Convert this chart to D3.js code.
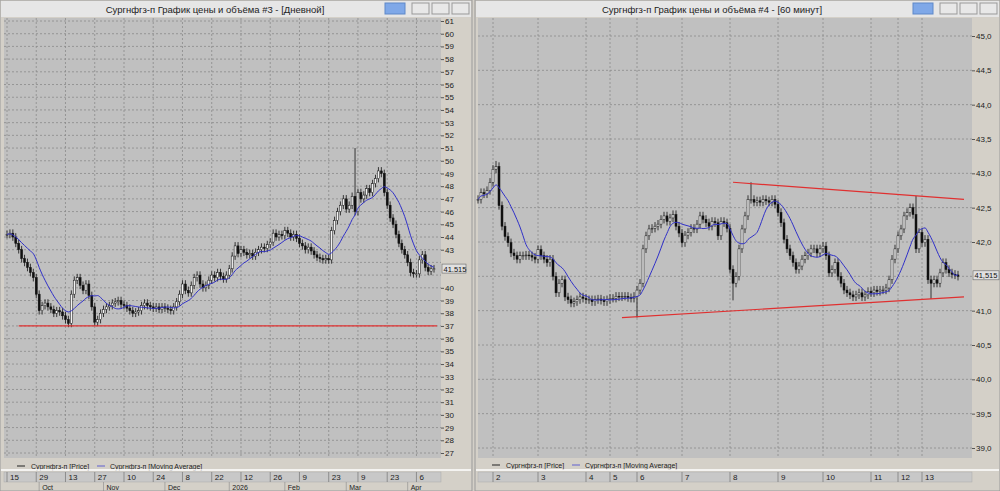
<!DOCTYPE html>
<html><head><meta charset="utf-8">
<script src="https://cdn.jsdelivr.net/npm/d3@7/dist/d3.min.js"></script>
<style>body{margin:0;background:#d4d0c8;font-family:"Liberation Sans",Arial,sans-serif}</style>
</head><body><svg id="s" width="1000" height="491"></svg>
<script>
// ---- Left chart (daily) ----
const leftCloses=[44.2,44.3,44.0,43.5,43.0,42.3,42.0,41.6,41.2,40.8,
39.5,38.2,38.6,38.8,38.5,38.3,38.0,38.2,38.1,37.8,
37.5,37.2,39.5,40.6,40.8,40.2,39.8,40.3,39.4,38.5,
37.3,37.5,38.0,38.3,38.5,38.6,38.8,38.9,39.0,38.7,
38.6,38.4,38.2,38.0,38.1,38.2,38.6,38.8,38.6,38.5,
38.4,38.5,38.3,38.5,38.4,38.3,38.2,38.5,38.9,39.5,
40.3,39.8,39.6,40.2,40.8,41.0,40.3,40.0,40.2,40.6,
41.0,40.8,41.2,40.9,40.7,41.0,41.5,42.5,43.3,42.7,
43.0,42.8,42.6,42.7,42.5,42.8,43.0,43.2,43.1,43.4,
43.6,44.3,44.0,44.2,44.1,44.5,44.3,44.0,44.2,43.9,
43.5,43.3,43.0,43.2,42.9,42.6,42.4,42.3,42.2,42.3,
42.2,44.5,45.3,46.0,46.5,47.0,46.2,46.5,47.2,46.0,
47.5,47.0,47.3,47.8,47.5,48.2,48.6,49.2,49.0,47.5,
46.5,45.5,45.0,44.2,43.5,43.0,42.6,42.0,41.2,41.1,
41.1,42.2,42.6,41.6,41.3,41.5,41.5];
const leftSpikes=[{i:119,h:51.0},{i:21,l:36.9},{i:127,h:49.5}];
const leftDayTicks=[[0,"15"],[10,"29"],[20,"13"],[30,"27"],[40,"10"],[50,"24"],[60,"8"],[70,"22"],[80,"12"],[90,"26"],[100,"9"],[110,"23"],[120,"9"],[130,"23"],[140,"6"]];
const leftMonths=[[11,"Oct"],[33,"Nov"],[54,"Dec"],[76,"2026"],[95,"Feb"],[116,"Mar"],[137,"Apr"]];
const leftYTicks=d3.range(27,62,1);
const leftLevel=[[4,37.0],[147,37.0]];
// ---- Right chart (60 min) ----
const rightCloses=[42.62,42.72,42.7,42.75,42.87,43.06,43.1,42.53,42.23,42.08,
41.99,41.84,41.8,41.75,41.8,41.8,41.81,41.8,41.78,41.75,
41.89,41.8,41.75,41.7,41.75,41.5,41.26,41.4,41.45,41.2,
41.16,41.11,41.13,41.16,41.2,41.18,41.16,41.16,41.13,41.16,
41.17,41.15,41.13,41.16,41.18,41.18,41.21,41.2,41.21,41.21,
41.19,41.18,41.21,41.3,41.4,41.9,42.09,42.19,42.2,42.23,
42.26,42.33,42.38,42.3,42.35,42.4,42.23,42.13,41.99,42.1,
42.14,42.2,42.19,42.26,42.38,42.33,42.28,42.23,42.3,42.28,
42.09,42.3,42.28,42.2,41.6,41.4,41.5,41.9,42.19,42.38,
42.62,42.62,42.58,42.6,42.58,42.62,42.6,42.58,42.62,42.55,
42.43,42.28,42.04,41.9,41.8,41.7,41.6,41.65,41.75,41.8,
41.84,41.9,41.9,41.84,41.9,41.94,41.8,41.55,41.6,41.7,
41.5,41.4,41.3,41.26,41.23,41.2,41.23,41.26,41.2,41.23,
41.28,41.26,41.3,41.28,41.3,41.3,41.33,41.45,41.75,41.9,
42.09,42.19,42.38,42.43,42.5,42.4,41.9,42.14,41.99,42.04,
41.45,41.4,41.45,41.4,41.55,41.7,41.6,41.55,41.53,41.52,41.5];
const rightSpikes=[{i:146,h:42.67},{i:91,h:42.87},{i:53,l:40.9},{i:6,h:43.18},{i:85,l:41.15},{i:151,l:41.17}];
const rightDayTicks=[[5,"2"],[20,"3"],[36,"4"],[44,"5"],[53,"6"],[68,"7"],[84,"8"],[100,"9"],[115,"10"],[131,"11"],[140,"12"],[148,"13"]];
const rightYTicks=d3.range(39,45.01,0.5);
const rightUpper=[[85,42.87],[162,42.62]];
const rightLower=[[48,40.9],[162,41.2]];

const svg=d3.select("#s");
function sma(a,n){return a.map((v,i)=>d3.mean(a.slice(Math.max(0,i-n+1),i+1)));}

function panel(o){
  const g=svg.append("g");
  g.append("rect").attr("x",o.wx).attr("y",0).attr("width",o.ww).attr("height",491).attr("fill","#d4d0c8").attr("stroke","#9a9a9a");
  g.append("rect").attr("x",o.wx+1).attr("y",1).attr("width",o.ww-2).attr("height",16).attr("fill","#e6e6e6");
  g.append("text").attr("x",o.tx).attr("y",13).attr("text-anchor","middle").attr("font-size",9.5).attr("fill","#222").text(o.title);
  const bx=o.wx+o.ww;
  g.append("rect").attr("x",bx-87).attr("y",3).attr("width",20).attr("height",11).attr("fill","#7fa8e8").attr("stroke","#5f88c8");
  [-60,-40,-20].forEach(d=>g.append("rect").attr("x",bx+d).attr("y",3).attr("width",17).attr("height",11).attr("fill","#e8e8e8").attr("stroke","#999"));
  g.append("rect").attr("x",o.px0).attr("y",18).attr("width",o.px1-o.px0).attr("height",o.py1-18).attr("fill","#c0c0c0");
  const x=d3.scaleLinear().domain(o.xd).range(o.xr);
  const y=d3.scaleLinear().domain(o.yd).range(o.yr);
  const grid=g.append("g").attr("stroke","#8a8a8a").attr("stroke-dasharray","2,2").attr("stroke-width",0.8);
  o.yt.forEach(v=>grid.append("line").attr("x1",o.px0).attr("x2",o.px1).attr("y1",y(v)).attr("y2",y(v)));
  o.dt.forEach(d=>grid.append("line").attr("x1",x(d[0])).attr("x2",x(d[0])).attr("y1",18).attr("y2",o.py1));
  const ya=d3.axisRight(y).tickValues(o.yt.filter(v=>Math.abs(y(v)-y(o.last))>o.hideGap)).tickSize(3).tickFormat(o.yf);
  const ag=g.append("g").attr("transform",`translate(${o.px1},0)`).call(ya);
  ag.select(".domain").remove();
  ag.selectAll("text").attr("font-size",8).attr("fill","#222").attr("x",4);
  ag.selectAll("line").attr("stroke","#555");
  const c=o.closes, w=o.cw;
  const cg=g.append("g");
  c.forEach((cl,i)=>{
    const op=i?c[i-1]:cl; let hi=Math.max(op,cl)+o.wick, lo=Math.min(op,cl)-o.wick;
    o.spikes.forEach(s=>{if(s.i===i){if(s.h)hi=s.h;if(s.l)lo=s.l;}});
    const up=cl>=op;
    cg.append("line").attr("x1",x(i)).attr("x2",x(i)).attr("y1",y(hi)).attr("y2",y(lo)).attr("stroke","#111").attr("stroke-width",0.8);
    cg.append("rect").attr("x",x(i)-w/2).attr("width",w).attr("y",y(Math.max(op,cl))).attr("height",Math.max(0.8,Math.abs(y(op)-y(cl))))
      .attr("fill",up?"#f4f4f4":"#111").attr("stroke","#111").attr("stroke-width",0.5);
  });
  const ma=sma(c,o.maN);
  g.append("path").datum(ma.map((v,i)=>[i,v]))
   .attr("d",d3.line().curve(d3.curveMonotoneX).x(d=>x(d[0])).y(d=>y(d[1]))).attr("fill","none").attr("stroke","#3030c8").attr("stroke-width",1);
  o.levels.forEach(L=>g.append("line").attr("x1",x(L[0][0])).attr("y1",y(L[0][1])).attr("x2",x(L[1][0])).attr("y2",y(L[1][1])).attr("stroke","#e03030").attr("stroke-width",1.2));
  g.append("rect").attr("x",o.px1+1).attr("y",y(o.last)-4.5).attr("width",o.lblW).attr("height",9).attr("fill","#e0e0e0").attr("stroke","#666").attr("stroke-width",0.6);
  g.append("text").attr("x",o.px1+2.5).attr("y",y(o.last)+3).attr("font-size",7.5).attr("fill","#111").text(o.lastTxt);
  g.append("line").attr("x1",o.wx+17).attr("x2",o.wx+25).attr("y1",o.legY).attr("y2",o.legY).attr("stroke","#222");
  g.append("text").attr("x",o.wx+31).attr("y",o.legY+3).attr("font-size",7).attr("fill","#222").text("Сургнфгз-п [Price]");
  g.append("line").attr("x1",o.wx+97).attr("x2",o.wx+105).attr("y1",o.legY).attr("y2",o.legY).attr("stroke","#6060d0");
  g.append("text").attr("x",o.wx+110).attr("y",o.legY+3).attr("font-size",7).attr("fill","#222").text("Сургнфгз-п [Moving Average]");
  g.append("line").attr("x1",o.wx+1).attr("x2",o.wx+o.ww-1).attr("y1",o.axY-2).attr("y2",o.axY-2).attr("stroke","#fff").attr("stroke-width",1.5);
  g.append("rect").attr("x",o.px0).attr("y",o.axY).attr("width",o.px1-o.px0).attr("height",10).attr("fill","#c8c8c8").attr("stroke","#aaa").attr("stroke-width",0.5);
  o.dt.forEach(d=>{g.append("line").attr("x1",x(d[0])).attr("x2",x(d[0])).attr("y1",o.axY).attr("y2",o.axY+10).attr("stroke","#666").attr("stroke-width",0.6);
    g.append("text").attr("x",x(d[0])+3).attr("y",o.axY+8).attr("font-size",8).attr("fill","#222").text(d[1]);});
  (o.months||[]).forEach(d=>{g.append("line").attr("x1",x(d[0])).attr("x2",x(d[0])).attr("y1",o.axY+10).attr("y2",491).attr("stroke","#888").attr("stroke-width",0.6);
    g.append("text").attr("x",x(d[0])+3).attr("y",o.axY+18).attr("font-size",7).attr("fill","#222").text(d[1]);});
}

panel({wx:0,ww:472,tx:215,title:"Сургнфгз-п График цены и объёма #3 - [Дневной]",px0:4,px1:441,py1:458,
 xd:[0,146],xr:[7,434],yd:[61,27],yr:[21,453],yt:leftYTicks,yf:d3.format("d"),dt:leftDayTicks,months:leftMonths,
 closes:leftCloses,cw:2,wick:0.3,spikes:leftSpikes,maN:10,levels:[leftLevel],last:41.515,lastTxt:"41.515",lblW:24,hideGap:9,
 legY:466,axY:472});
panel({wx:475,ww:525,tx:712,title:"Сургнфгз-п График цены и объёма #4 - [60 минут]",px0:478,px1:972,py1:458,
 xd:[0,160],xr:[478,958],yd:[45,39],yr:[36,448],yt:rightYTicks,yf:v=>d3.format(".1f")(v).replace(".",","),dt:rightDayTicks,
 closes:rightCloses,cw:2,wick:0.06,spikes:rightSpikes,maN:10,levels:[rightUpper,rightLower],last:41.515,lastTxt:"41,515",lblW:26,hideGap:9,
 legY:465,axY:472});
</script></body></html>
